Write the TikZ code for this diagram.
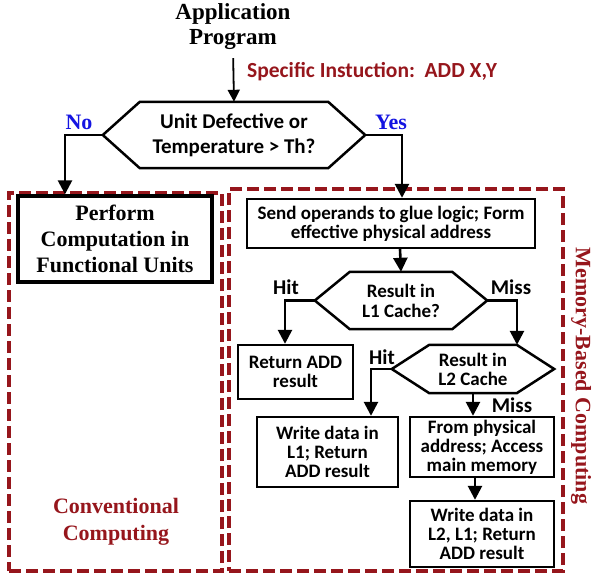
\documentclass[tikz,border=0pt]{standalone}
\usepackage{fontspec}
\setmainfont{Liberation Serif}
\setsansfont{Carlito}
\usetikzlibrary{arrows.meta}
\definecolor{dred}{RGB}{150,22,28}
\definecolor{myblue}{RGB}{20,20,225}
\newcommand\hexdraw[2]{\draw[hexline] (#1.west) -- ([xshift=#2]#1.north west) -- ([xshift=-#2]#1.north east) -- (#1.east) -- ([xshift=-#2]#1.south east) -- ([xshift=#2]#1.south west) -- cycle;}
\begin{document}
\begin{tikzpicture}[x=1pt,y=-1pt,
  sbox/.style={draw, line width=2.4pt, align=center, inner sep=0pt, font=\sffamily\bfseries\fontsize{19}{19}\selectfont},
  hexn/.style={inner sep=0pt, align=center, font=\sffamily\bfseries\fontsize{19}{20}\selectfont},
  hexline/.style={line width=2.5pt, line join=miter},
  lab/.style={inner sep=0pt, font=\sffamily\bfseries\fontsize{21}{21}\selectfont},
  serb/.style={inner sep=0pt, align=center, font=\rmfamily\bfseries\fontsize{22}{26}\selectfont},
  arr/.style={line width=2.6pt, -{Triangle[width=14pt,length=14pt]}},
  dbox/.style={draw=dred, line width=3.2pt, dash pattern=on 12pt off 5pt, inner sep=0pt}]
\useasboundingbox (0,0) rectangle (592,574);
% containers
\node[dbox, minimum width=213pt, minimum height=378pt] (conv) at (115.5,382) {};
\node[dbox, minimum width=334pt, minimum height=382pt] (mem) at (396,380) {};
% top
\node[serb, font=\rmfamily\bfseries\fontsize{23}{25}\selectfont] (app) at (233,27) {Application\\Program};
\node[lab, text=dred, anchor=west, font=\sffamily\bfseries\fontsize{21.5}{21.5}\selectfont] (spec) at (247,72) {Specific Instuction:\ \ ADD X,Y};
\node[hexn, minimum width=262pt, minimum height=66pt, font=\sffamily\bfseries\fontsize{21}{25}\selectfont] (h1) at (234,135) {Unit Defective or\\Temperature > Th?};
\hexdraw{h1}{37pt}
\node[serb, text=myblue, font=\rmfamily\bfseries\fontsize{22}{22}\selectfont] (no) at (79,122) {No};
\node[serb, text=myblue, font=\rmfamily\bfseries\fontsize{22}{22}\selectfont] (yes) at (391,122) {Yes};
% conventional
\node[draw, line width=3.4pt, serb, minimum width=194pt, minimum height=86pt] (perf) at (115,239) {Perform\\Computation in\\Functional Units};
\node[serb, text=dred, font=\rmfamily\bfseries\fontsize{22}{27}\selectfont] (convt) at (116,522) {Conventional\\Computing};
% memory based
\node[sbox, minimum width=288pt, minimum height=49pt] (send) at (391,223.5) {Send operands to glue logic; Form\\effective physical address};
\node[hexn, minimum width=172pt, minimum height=57pt] (h2) at (401,300.5) {Result in\\L1 Cache?};
\hexdraw{h2}{35pt}
\node[lab] (hit1) at (286,287) {Hit};
\node[lab] (miss1) at (511,287) {Miss};
\node[sbox, minimum width=115pt, minimum height=54pt] (ret) at (295.5,372) {Return ADD\\result};
\node[hexn, minimum width=162pt, minimum height=48pt, font=\sffamily\bfseries\fontsize{19}{19}\selectfont] (h3) at (473,369) {Result in\\L2 Cache};
\hexdraw{h3}{37.5pt}
\node[lab] (hit2) at (382,357) {Hit};
\node[lab] (miss2) at (512,405) {Miss};
\node[sbox, minimum width=141pt, minimum height=70pt] (w1) at (327.5,452) {Write data in\\L1; Return\\ADD result};
\node[sbox, minimum width=144pt, minimum height=60pt] (fpa) at (482,447) {From physical\\address; Access\\main memory};
\node[sbox, minimum width=144pt, minimum height=66pt] (w2) at (482,534) {Write data in\\L2, L1; Return\\ADD result};
\node[serb, text=dred, rotate=-90, font=\rmfamily\bfseries\fontsize{22}{22}\selectfont] (memt) at (581,376) {Memory-Based Computing};
% connectors
\draw[arr, line width=1.8pt, -{Triangle[width=12pt,length=12pt]}, shorten <=8pt] (app.south) -- (h1.north);
\draw[arr] (h1.west) -| ([xshift=-50pt]perf.north);
\draw[arr] (h1.east) -| ([xshift=11pt]send.north);
\draw[arr] ([xshift=9pt]send.south) -- (h2.north);
\draw[arr] (h2.west) -| ([xshift=-10.5pt]ret.north);
\draw[arr] (h2.east) -| ([xshift=44pt]h3.north);
\draw[arr] (h3.west) -| ([xshift=43.5pt]w1.north);
\draw[arr] (h3.south) -- ([xshift=-9pt]fpa.north);
\draw[arr] ([xshift=-7pt]fpa.south) -- ([xshift=-7pt]w2.north);
\end{tikzpicture}
\end{document}
